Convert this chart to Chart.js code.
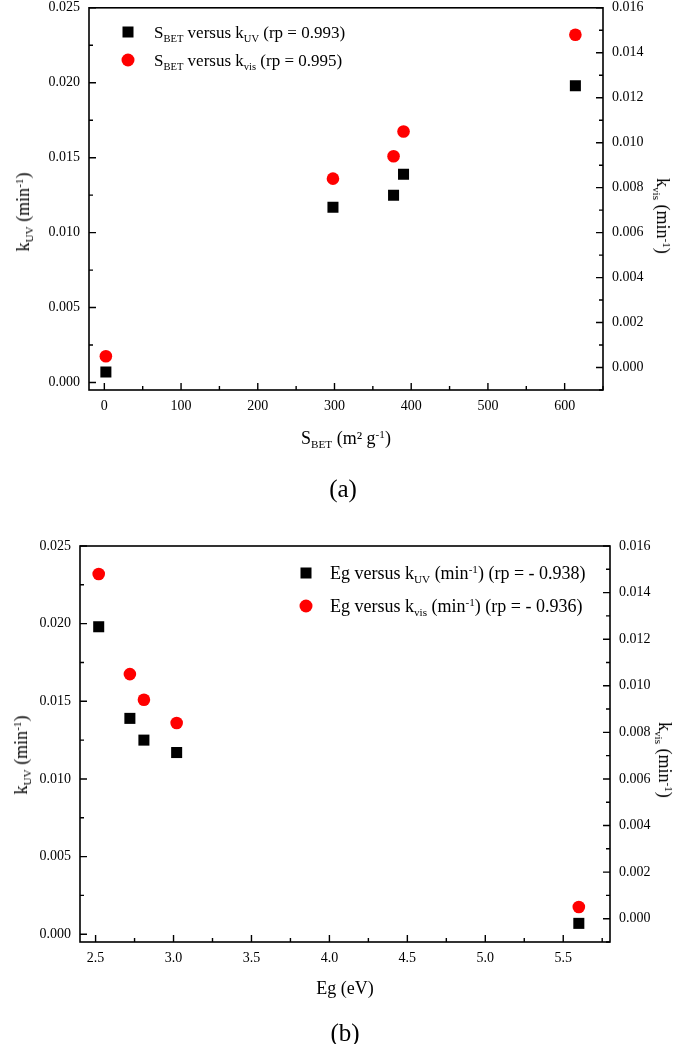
<!DOCTYPE html>
<html lang="en">
<head>
<meta charset="UTF-8">
<title>Rate constants versus S_BET and Eg</title>
<script src="https://cdn.jsdelivr.net/npm/chart.js"></script>
<style>
  body { margin:0; background:#fff; width:685px; height:1044px; position:relative; overflow:hidden;
         font-family:"Liberation Serif","Times New Roman",serif; color:#000; }
  canvas { position:absolute; left:0; }
  #c1 { top:0; }
  #c2 { top:522px; }
  .t { position:absolute; white-space:nowrap; line-height:1; }
  .c { transform:translate(-50%,-50%); }
  .l { transform:translateY(-50%); }
  .rl { transform:translate(-50%,-50%) rotate(-90deg); }
  .rr { transform:translate(-50%,-50%) rotate(90deg); }
  .sub { font-size:0.62em; position:relative; top:0.35em; }
  .sup { font-size:0.62em; position:relative; top:-0.55em; }
  .mk { position:absolute; transform:translate(-50%,-50%); }
  .sq { width:11px; height:11px; background:#000; }
  .dot { width:13px; height:13px; background:#ff0000; border-radius:50%; }
</style>
</head>
<body>
<canvas id="c1" width="685" height="522"></canvas>
<canvas id="c2" width="685" height="522"></canvas>

<!-- panel (a) -->
<div class="mk sq" style="left:128px;top:32px"></div>
<div class="t l" style="left:154px;top:32px;font-size:17px">S<span class="sub">BET</span> versus k<span class="sub">UV</span> (rp = 0.993)</div>
<div class="mk dot" style="left:128px;top:60px"></div>
<div class="t l" style="left:154px;top:60px;font-size:17px">S<span class="sub">BET</span> versus k<span class="sub">vis</span> (rp = 0.995)</div>
<div class="t rl" style="left:23px;top:212px;font-size:18px">k<span class="sub">UV</span> (min<span class="sup">-1</span>)</div>
<div class="t rr" style="left:663px;top:216px;font-size:18px">k<span class="sub">vis</span> (min<span class="sup">-1</span>)</div>
<div class="t c" style="left:346px;top:438px;font-size:18px">S<span class="sub">BET</span> (m² g<span class="sup">-1</span>)</div>
<div class="t c" style="left:343px;top:488px;font-size:25px">(a)</div>

<!-- panel (b) -->
<div class="mk sq" style="left:306px;top:573px"></div>
<div class="t l" style="left:330px;top:573px;font-size:18px">Eg versus k<span class="sub">UV</span> (min<span class="sup">-1</span>) (rp = - 0.938)</div>
<div class="mk dot" style="left:306px;top:606px"></div>
<div class="t l" style="left:330px;top:606px;font-size:18px">Eg versus k<span class="sub">vis</span> (min<span class="sup">-1</span>) (rp = - 0.936)</div>
<div class="t rl" style="left:21px;top:755px;font-size:18px">k<span class="sub">UV</span> (min<span class="sup">-1</span>)</div>
<div class="t rr" style="left:665px;top:760px;font-size:18px">k<span class="sub">vis</span> (min<span class="sup">-1</span>)</div>
<div class="t c" style="left:345px;top:988px;font-size:18px">Eg (eV)</div>
<div class="t c" style="left:345px;top:1032px;font-size:25px">(b)</div>

<script>
// data (same five samples in both panels)
const sBet = [2, 298, 377, 390, 614];
const eg   = [5.60, 3.02, 2.81, 2.72, 2.52];
const kUV  = [0.0007, 0.0117, 0.0125, 0.0139, 0.0198];
const kVis = [0.0005, 0.0084, 0.0094, 0.0105, 0.0148];

// tick labels
const uvTicks  = [0, 0.005, 0.010, 0.015, 0.020, 0.025];
const visTicks = [0, 0.002, 0.004, 0.006, 0.008, 0.010, 0.012, 0.014, 0.016];
const sBetTicks = [0, 100, 200, 300, 400, 500, 600];
const egTicks  = [2.5, 3.0, 3.5, 4.0, 4.5, 5.0, 5.5];

const FONT = { family: '"Liberation Serif","Times New Roman",serif', size: 14 };
const NOGRID = { display: false, drawTicks: false, tickLength: 0 };

// minor ticks halfway between the majors, inside the axis range
function minors(scale, major) {
  const step = major[1] - major[0];
  const out = [];
  for (let v = major[0] - step / 2; v <= scale.max + 1e-9; v += step) {
    if (v >= scale.min - 1e-9) out.push(v);
  }
  return out;
}

// box and inward ticks, Origin style
const frame = {
  id: 'frame',
  beforeDatasetsDraw(chart) {
    const { ctx, chartArea: a, scales } = chart;
    ctx.save();
    ctx.strokeStyle = '#000';
    ctx.lineWidth = 1.6;
    ctx.strokeRect(a.left, a.top, a.right - a.left, a.bottom - a.top);
    ctx.lineWidth = 1.4;
    ctx.beginPath();
    const draw = (scale, major) => {
      const put = (v, len) => {
        const p = scale.getPixelForValue(v);
        if (scale.id === 'x') { ctx.moveTo(p, a.bottom); ctx.lineTo(p, a.bottom - len); }
        else if (scale.id === 'y') { ctx.moveTo(a.left, p); ctx.lineTo(a.left + len, p); }
        else { ctx.moveTo(a.right, p); ctx.lineTo(a.right - len, p); }
      };
      major.forEach(v => put(v, 7));
      minors(scale, major).forEach(v => put(v, 4));
    };
    draw(scales.x, scales.x.options.majorVals);
    draw(scales.y, uvTicks);
    draw(scales.y2, visTicks);
    ctx.stroke();
    ctx.restore();
  }
};

function fixed(size, horiz) {
  return s => {
    if (horiz) s.height = size; else s.width = size;
    s.paddingTop = s.paddingBottom = s.paddingLeft = s.paddingRight = 0;
  };
}

function build(id, xs, xTicks, xMin, xMax, xDigits, area, h) {
  return new Chart(document.getElementById(id), {
    type: 'scatter',
    data: {
      datasets: [
        {
          label: 'k_UV',
          data: xs.map((x, i) => ({ x: x, y: kUV[i] })),
          yAxisID: 'y',
          pointStyle: 'rect',
          pointRadius: 7.8,
          backgroundColor: '#000',
          borderWidth: 0
        },
        {
          label: 'k_vis',
          data: xs.map((x, i) => ({ x: x, y: kVis[i] })),
          yAxisID: 'y2',
          pointStyle: 'circle',
          pointRadius: 6.3,
          backgroundColor: '#ff0000',
          borderWidth: 0
        }
      ]
    },
    options: {
      responsive: false,
      animation: false,
      devicePixelRatio: 1,
      layout: { padding: { top: area.top, left: 0, right: 0, bottom: 0 } },
      plugins: { legend: { display: false }, tooltip: { enabled: false } },
      scales: {
        x: {
          type: 'linear', min: xMin, max: xMax,
          majorVals: xTicks,
          grid: NOGRID, border: { display: false },
          afterBuildTicks: s => { s.ticks = xTicks.map(v => ({ value: v })); },
          afterFit: fixed(h - area.bottom, true),
          ticks: { autoSkip: false, maxRotation: 0, padding: 8, color: '#000', font: FONT,
                   callback: v => v.toFixed(xDigits) }
        },
        y: {
          position: 'left', min: -0.0005, max: 0.025,
          grid: NOGRID, border: { display: false },
          afterBuildTicks: s => { s.ticks = uvTicks.map(v => ({ value: v })); },
          afterFit: fixed(area.left, false),
          ticks: { autoSkip: false, padding: 9, color: '#000', font: FONT,
                   callback: v => v.toFixed(3) }
        },
        y2: {
          position: 'right', min: -0.001, max: 0.016,
          grid: NOGRID, border: { display: false },
          afterBuildTicks: s => { s.ticks = visTicks.map(v => ({ value: v })); },
          afterFit: fixed(685 - area.right, false),
          ticks: { autoSkip: false, padding: 9, color: '#000', font: FONT,
                   callback: v => v.toFixed(3) }
        }
      }
    },
    plugins: [frame]
  });
}

build('c1', sBet, sBetTicks, -20, 650, 0, { left: 89, right: 603, top: 6, bottom: 390 }, 522);
build('c2', eg, egTicks, 2.4, 5.8, 1, { left: 80, right: 610, top: 24, bottom: 420 }, 522);
</script>
</body>
</html>
